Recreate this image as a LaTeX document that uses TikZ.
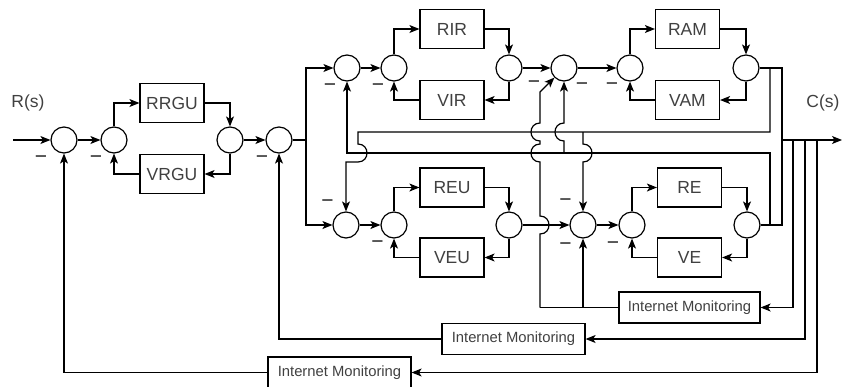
\documentclass[tikz,border=0pt]{standalone}
\usepackage{fontspec}
\setmainfont{Liberation Sans}
\usetikzlibrary{arrows.meta}
\begin{document}
\begin{tikzpicture}[x=1pt,y=-1pt,
  line width=1.2pt,
  sumnode/.style={draw, circle, minimum size=26pt, inner sep=0pt},
  blocknode/.style={draw, rectangle, minimum width=64pt, minimum height=39pt, inner sep=0pt, font=\fontsize{17.5}{20}\selectfont, text=black!75},
  imnode/.style={draw, rectangle, minimum width=142pt, minimum height=31pt, inner sep=0pt, font=\fontsize{14.8}{17}\selectfont, text=black!75},
  lbl/.style={font=\fontsize{17.5}{20}\selectfont, text=black!75, inner sep=0pt},
  minus/.style={font=\fontsize{21}{24}\selectfont, inner sep=0pt, text=black!85},
  arr/.style={-{Stealth[length=10pt,width=8pt,inset=2.5pt]}}
]
\useasboundingbox (0,0) rectangle (843,386);

% main row
\node[sumnode] (C1) at (64,140) {};
\node[sumnode] (C2) at (114,140) {};
\node[sumnode] (C3) at (230,140) {};
\node[sumnode] (C4) at (279,140) {};
\node[blocknode] (RRGU) at (172,103) {RRGU};
\node[blocknode] (VRGU) at (172,174) {VRGU};

% top row
\node[sumnode] (C5) at (347,68) {};
\node[sumnode] (C6) at (394,68) {};
\node[blocknode] (RIR) at (452,29) {RIR};
\node[blocknode] (VIR) at (452,100) {VIR};
\node[sumnode] (C7) at (509,68) {};
\node[sumnode] (C8) at (564,68) {};
\node[sumnode] (C9) at (630,68) {};
\node[blocknode] (RAM) at (687.5,29) {RAM};
\node[blocknode] (VAM) at (687.5,100) {VAM};
\node[sumnode] (C10) at (746,68) {};

% bottom row
\node[sumnode] (C11) at (346,225) {};
\node[sumnode] (C12) at (394,225) {};
\node[blocknode] (REU) at (452,187.5) {REU};
\node[blocknode] (VEU) at (452,257.5) {VEU};
\node[sumnode] (C13) at (509,225) {};
\node[sumnode] (C14) at (583,225) {};
\node[sumnode] (C15) at (632,225) {};
\node[blocknode] (RE) at (689.5,187.5) {RE};
\node[blocknode] (VE) at (689.5,257.5) {VE};
\node[sumnode] (C16) at (747,225) {};

% monitoring boxes
\node[imnode, minimum width=141pt] (IM1) at (689.5,307.5) {Internet Monitoring};
\node[imnode, minimum width=143pt] (IM2) at (513.5,339) {Internet Monitoring};
\node[imnode, minimum width=143pt] (IM3) at (339.5,372.5) {Internet Monitoring};

% labels
\node[lbl] (Rs) at (28,103) {R(s)};
\node[lbl] (Cs) at (823,103) {C(s)};

% minus signs
\foreach \p/\n in {(41,160)/m1,(96,160)/m2,(262,160)/m4,(330,88)/m5,(378,88)/m6,(534,85)/m8a,(582,87)/m8b,(612,87)/m9,(327.5,204)/m11,(377.5,245)/m12,(565.5,203)/m14a,(565.5,247)/m14b,(613,246)/m15}
  \node[minus] (\n) at \p {−};

% coordinates
\coordinate (in) at (13,140);
\coordinate (s1) at (306,140);
\coordinate (o1) at (782,140);
\coordinate (out) at (842,140);
\coordinate (t1) at (793,140);
\coordinate (t2) at (805,140);
\coordinate (t3) at (817,140);
\coordinate (fa) at (770,68);
\coordinate (fb) at (770,132);
\coordinate (fc) at (358,132);
\coordinate (fd) at (583,132);
\coordinate (ga) at (770,225);
\coordinate (gb) at (770,153);
\coordinate (gc) at (347,153);
\coordinate (gd) at (564,153);
\coordinate (ha) at (583,307.5);
\coordinate (hb) at (540,307.5);

% main loop
\draw[arr] (in) -- (C1.west);
\draw[arr] (C1) -- (C2);
\draw[arr] (C2.north) |- (RRGU.west);
\draw[arr] (RRGU.east) -| (C3.north);
\draw[arr] (C3.south) |- (VRGU.east);
\draw[arr] (VRGU.west) -| (C2.south);
\draw[arr] (C3) -- (C4);
\draw (C4.east) -- (s1);
\draw[arr] (s1) |- (C5.west);
\draw[arr] (s1) |- (C11.west);

% top branch
\draw[arr] (C5) -- (C6);
\draw[arr] (C6.north) |- (RIR.west);
\draw[arr] (RIR.east) -| (C7.north);
\draw[arr] (C7.south) |- (VIR.east);
\draw[arr] (VIR.west) -| (C6.south);
\draw[arr] (C7) -- (C8);
\draw[arr] (C8) -- (C9);
\draw[arr] (C9.north) |- (RAM.west);
\draw[arr] (RAM.east) -| (C10.north);
\draw[arr] (C10.south) |- (VAM.east);
\draw[arr] (VAM.west) -| (C9.south);

% bottom branch
\draw[arr] (C11) -- (C12);
\draw[arr] (C12.north) |- (REU.west);
\draw[arr] (REU.east) -| (C13.north);
\draw[arr] (C13.south) |- (VEU.east);
\draw[arr] (VEU.west) -| (C12.south);
\draw[arr] (C13) -- (C14);
\draw[arr] (C14) -- (C15);
\draw[arr] (C15.north) |- (RE.west);
\draw[arr] (RE.east) -| (C16.north);
\draw[arr] (C16.south) |- (VE.east);
\draw[arr] (VE.west) -| (C15.south);

% output
\draw (C10.east) -| (o1);
\draw (C16.east) -| (o1);
\draw[arr] (o1) -- (out);
\draw[arr] (t1) |- (IM1.east);
\draw[arr] (t2) |- (IM2.east);
\draw[arr] (t3) |- (IM3.east);
\draw[arr] (IM2.west) -| (C4.south);
\draw[arr] (IM3.west) -| (C1.south);

% cross feedback from C10
\draw[arr] (fa) -- (fb) -- (fc) -- (358,144) .. controls (370,144) and (370,162) .. (358,162) -- (346,162) -- (C11.north);
\draw[arr] (fd) -- (583,144) .. controls (595,144) and (595,162) .. (583,162) -- (C14.north);

% cross feedback from C16
\draw[arr] (ga) -- (gb) -- (gc) -- (C5.south);
\draw[arr] (gd) -- (564,141) .. controls (552,141) and (552,123) .. (564,123) -- (C8.south);

% monitoring 1
\draw (IM1.west) -- (hb);
\draw[arr] (ha) -- (C14.south);
\draw[arr] (hb) -- (540,234) .. controls (552,234) and (552,216) .. (540,216) -- (540,162) .. controls (528,162) and (528,144) .. (540,144) -- (540,141) .. controls (528,141) and (528,123) .. (540,123) -- (540,92) -- (C8);
\end{tikzpicture}
\end{document}
